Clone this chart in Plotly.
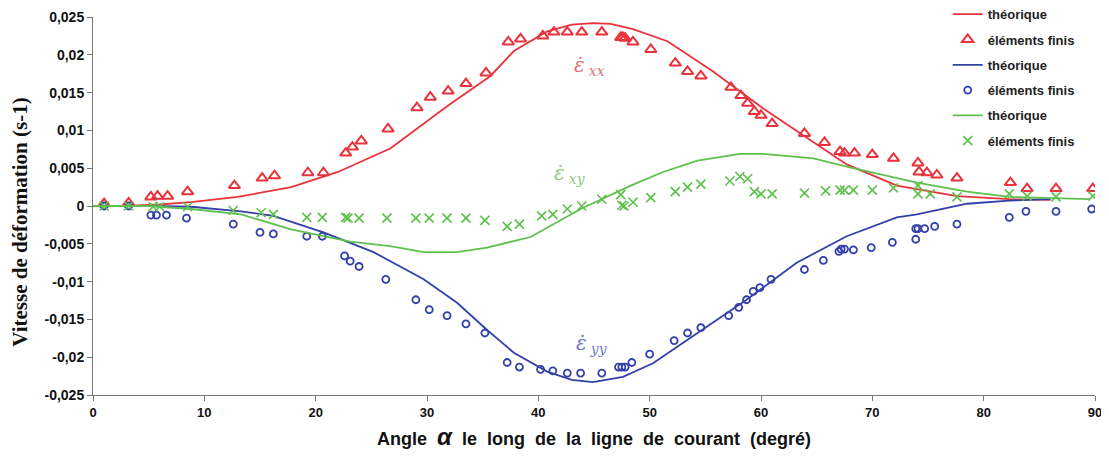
import plotly.graph_objects as go

# ---- data ----
# theoretical curves
th_xx_x = [0, 3, 6, 8.8, 13, 17.8, 22, 26.7, 31.9, 35.7, 37.8, 40.8, 43, 44.9, 46.5, 48.5, 51.6, 55.7, 60.2, 64.7, 67.7, 72.2, 74, 77.6, 82.3, 86]
th_xx_y = [0, 0, 0.0002, 0.0005, 0.0012, 0.0025, 0.0045, 0.0076, 0.0133, 0.0172, 0.0205, 0.0231, 0.0240, 0.0242, 0.0241, 0.0234, 0.0218, 0.0178, 0.0129, 0.0085, 0.0055, 0.0027, 0.0022, 0.0013, 0.0009, 0.0008]

th_yy_x = [0, 5, 8.8, 13.3, 16.2, 20.7, 25.2, 29.7, 32.7, 35.4, 37.8, 40.8, 43, 44.9, 47.6, 50.3, 54.3, 58.7, 63.2, 67.7, 72.2, 74, 78.5, 82.3, 86]
th_yy_y = [0, 0, -0.0001, -0.0007, -0.0013, -0.0035, -0.0061, -0.0097, -0.0128, -0.0164, -0.0194, -0.0219, -0.0230, -0.0233, -0.0226, -0.0208, -0.0168, -0.0124, -0.0075, -0.0040, -0.0015, -0.0011, 0.0003, 0.0007, 0.0009]

th_xy_x = [0, 5, 8.8, 13.3, 17.8, 23.1, 26.7, 29.7, 32.7, 35.4, 39.3, 43.8, 48.3, 51.2, 54.3, 58.1, 60.2, 64.7, 67.7, 72.2, 74, 78.5, 82.3, 89.5]
th_xy_y = [0, 0, -0.0004, -0.0011, -0.0031, -0.0047, -0.0053, -0.0061, -0.0061, -0.0055, -0.0041, -0.0004, 0.0027, 0.0045, 0.0060, 0.0069, 0.0069, 0.0063, 0.0052, 0.0037, 0.0031, 0.0019, 0.0012, 0.0009]

# finite elements
fe_xx_x = [1.0, 3.2, 5.2, 5.8, 6.7, 8.5, 12.7, 15.2, 16.3, 19.3, 20.7, 22.7, 23.3, 24.1, 26.5, 29.1, 30.3, 31.9, 33.5, 35.3,
           37.3, 38.4, 40.4, 41.4, 42.6, 43.9, 45.7, 47.4, 47.6, 47.8, 48.5, 50.1, 52.3, 53.4, 54.6, 57.3, 58.2, 58.8, 59.4, 60.0,
           61.0, 63.9, 65.7, 67.1, 67.5, 68.4, 70.0, 71.9, 74.1, 74.2, 74.9, 75.8, 77.6, 82.4, 83.9, 86.5, 89.8]
fe_xx_y = [0.0003, 0.0004, 0.0012, 0.0013, 0.0013, 0.0019, 0.0027, 0.0037, 0.0040, 0.0044, 0.0044, 0.0070, 0.0078, 0.0086, 0.0102, 0.0130, 0.0144, 0.0152, 0.0162, 0.0176,
           0.0217, 0.0221, 0.0225, 0.0230, 0.0230, 0.0230, 0.0230, 0.0223, 0.0223, 0.0222, 0.0217, 0.0207, 0.0189, 0.0178, 0.0172, 0.0157, 0.0146, 0.0136, 0.0125, 0.0120,
           0.0109, 0.0096, 0.0084, 0.0072, 0.0070, 0.0070, 0.0068, 0.0063, 0.0057, 0.0045, 0.0044, 0.0041, 0.0037, 0.0031, 0.0023, 0.0023, 0.0023]

fe_yy_x = [1.0, 3.2, 5.2, 5.7, 6.6, 8.4, 12.6, 15.0, 16.2, 19.2, 20.6, 22.6, 23.1, 23.9, 26.3, 29.0, 30.2, 31.8, 33.5, 35.2,
           37.2, 38.3, 40.2, 41.3, 42.6, 43.8, 45.7, 47.2, 47.5, 47.8, 48.4, 50.0, 52.2, 53.4, 54.6, 57.1, 58.0, 58.7, 59.3, 59.9,
           60.9, 63.9, 65.6, 67.0, 67.2, 67.5, 68.3, 69.9, 71.8, 73.9, 73.9, 74.1, 74.7, 75.6, 77.6, 82.3, 83.8, 86.5, 89.7]
fe_yy_y = [0.0, 0.0, -0.0012, -0.0012, -0.0012, -0.0016, -0.0024, -0.0035, -0.0037, -0.0040, -0.0040, -0.0066, -0.0073, -0.0080, -0.0097, -0.0124, -0.0137, -0.0145, -0.0156, -0.0168,
           -0.0207, -0.0213, -0.0216, -0.0218, -0.0221, -0.0221, -0.0221, -0.0213, -0.0213, -0.0213, -0.0207, -0.0196, -0.0178, -0.0168, -0.0161, -0.0145, -0.0134, -0.0124, -0.0113, -0.0108,
           -0.0097, -0.0084, -0.0072, -0.0060, -0.0057, -0.0057, -0.0058, -0.0055, -0.0048, -0.0044, -0.0030, -0.0030, -0.0030, -0.0027, -0.0024, -0.0015, -0.0007, -0.0007, -0.0004]

fe_xy_x = [1.0, 3.2, 5.4, 6.0, 8.5, 12.6, 15.1, 16.2, 19.2, 20.6, 22.7, 22.9, 23.9, 26.4, 29.0, 30.2, 31.8, 33.5, 35.2,
           37.2, 38.3, 40.3, 41.3, 42.6, 43.9, 45.7, 47.4, 47.5, 47.7, 48.5, 50.1, 52.3, 53.4, 54.6, 57.2, 58.1, 58.8, 59.4, 60.0,
           61.0, 63.9, 65.8, 67.1, 67.5, 68.3, 70.0, 71.9, 74.1, 74.1, 75.2, 77.6, 82.3, 83.9, 86.5, 89.8]
fe_xy_y = [0.0, 0.0, -0.0001, -0.0001, -0.0001, -0.0006, -0.0009, -0.0011, -0.0015, -0.0015, -0.0015, -0.0016, -0.0016, -0.0016, -0.0016, -0.0016, -0.0016, -0.0016, -0.0019,
           -0.0027, -0.0024, -0.0013, -0.0011, -0.0004, 0.0000, 0.0009, 0.0015, 0.0001, 0.0000, 0.0005, 0.0011, 0.0019, 0.0025, 0.0029, 0.0033, 0.0039, 0.0036, 0.0019, 0.0016,
           0.0016, 0.0017, 0.0020, 0.0021, 0.0021, 0.0021, 0.0021, 0.0024, 0.0027, 0.0016, 0.0016, 0.0012, 0.0016, 0.0013, 0.0012, 0.0013]

y_tickvals = [-0.025, -0.02, -0.015, -0.01, -0.005, 0, 0.005, 0.01, 0.015, 0.02, 0.025]
y_ticktext = ["-0,025", "-0,02", "-0,015", "-0,01", "-0,005", "0", "0,005", "0,01", "0,015", "0,02", "0,025"]
x_tickvals = [0, 10, 20, 30, 40, 50, 60, 70, 80, 90]

# curve labels: (x, y, subscript, colour)
label_xx = (44.6, 0.0185, "xx", "#E2707A")
label_xy = (42.8, 0.0042, "xy", "#94C882")
label_yy = (44.8, -0.0182, "yy", "#6A78C8")

RED = "#E8333D"
BLUE = "#3340A8"
GREEN = "#5EC04C"

fig = go.Figure()
fig.add_trace(go.Scatter(x=th_xx_x, y=th_xx_y, mode="lines", name="théorique",
                         line=dict(color=RED, width=1.8), legendgroup="a"))
fig.add_trace(go.Scatter(x=fe_xx_x, y=fe_xx_y, mode="markers", name="éléments finis",
                         marker=dict(symbol="triangle-up-open", size=10, color=RED, line=dict(width=2)), legendgroup="b"))
fig.add_trace(go.Scatter(x=th_yy_x, y=th_yy_y, mode="lines", name="théorique",
                         line=dict(color=BLUE, width=1.8), legendgroup="c"))
fig.add_trace(go.Scatter(x=fe_yy_x, y=fe_yy_y, mode="markers", name="éléments finis",
                         marker=dict(symbol="circle-open", size=7, color=BLUE, line=dict(width=1.8)), legendgroup="d"))
fig.add_trace(go.Scatter(x=th_xy_x, y=th_xy_y, mode="lines", name="théorique",
                         line=dict(color=GREEN, width=1.8), legendgroup="e"))
fig.add_trace(go.Scatter(x=fe_xy_x, y=fe_xy_y, mode="markers", name="éléments finis",
                         marker=dict(symbol="x-thin-open", size=9, color=GREEN, line=dict(width=1.6, color=GREEN)), legendgroup="f"))

ann_font = "DejaVu Serif, Liberation Serif, serif"
for (lx, ly, sub, col) in (label_xx, label_xy, label_yy):
    fig.add_annotation(x=lx, y=ly, xref="x", yref="y", showarrow=False,
                       text="<i>ε\u0307</i>\u2009<sub><i>" + sub + "</i></sub>",
                       font=dict(family=ann_font, size=20, color=col))

# y-axis title as a rotated annotation (sits slightly below the plot centre as in the reference)
fig.add_annotation(x=-0.073, y=0.458, xref="paper", yref="paper", showarrow=False, textangle=-90,
                   xanchor="center", yanchor="middle",
                   text="Vitesse de déformation (s-1)",
                   font=dict(family="Liberation Serif, Times New Roman, serif", size=21, color="#111", weight="bold"))

tick_font_y = dict(family="Liberation Sans, Arial", size=14, color="#111", weight="bold")
tick_font_x = dict(family="Liberation Sans, Arial", size=13, color="#111", weight="bold")
sp = "\u00a0\u00a0"
x_title = sp.join(["Angle", "<i><span style='font-size:24px'>α</span></i>", "le", "long", "de", "la", "ligne", "de", "courant", "(degré)"])

# the page body has an 8px margin, so the figure is sized and offset to fit the window
fig.update_layout(
    width=1101, height=453,
    margin=dict(l=85, r=14, t=9, b=66, autoexpand=False),
    paper_bgcolor="white", plot_bgcolor="white",
    showlegend=True,
    legend=dict(x=0.853, xanchor="left", y=1.047, yanchor="top",
                bgcolor="rgba(255,255,255,0)", tracegroupgap=5.4,
                font=dict(family="Liberation Sans, Arial", size=13, color="#222", weight="bold")),
    xaxis=dict(range=[0, 90], tickvals=x_tickvals, showgrid=False, zeroline=False, automargin=False,
               showline=True, linecolor="#777", linewidth=1, ticks="outside", ticklen=5,
               tickcolor="#777", tickfont=tick_font_x,
               title=dict(text=x_title,
                          font=dict(family="Liberation Sans, Arial", size=18, color="#111", weight="bold"),
                          standoff=13)),
    yaxis=dict(range=[-0.025, 0.025], tickvals=y_tickvals, ticktext=y_ticktext, showgrid=False, zeroline=False,
               automargin=False,
               showline=True, linecolor="#777", linewidth=1, ticks="outside", ticklen=5,
               tickcolor="#777", tickfont=tick_font_y),
)

fig.write_html("out.html")
